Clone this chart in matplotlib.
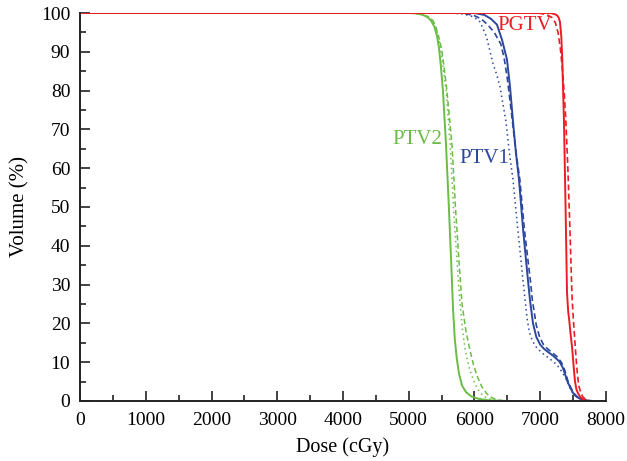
import matplotlib
matplotlib.use("Agg")
import matplotlib.pyplot as plt
from matplotlib.ticker import MultipleLocator

# PTV2 (green)
ptv2_solid_dose = [0, 5000, 5100, 5200, 5280, 5340, 5390, 5430, 5460, 5490, 5520, 5567, 5610, 5645, 5673, 5700, 5730, 5765, 5810, 5870, 5950, 6050, 6200, 6400, 6550]
ptv2_solid_vol = [100, 100, 99.9, 99.6, 99, 98, 96.5, 94, 91, 86, 80, 66, 50, 36, 24, 16, 11, 7, 4, 2.3, 1.2, 0.6, 0.2, 0.05, 0]
ptv2_dash_dose = [0, 5000, 5100, 5200, 5300, 5370, 5420, 5470, 5506, 5545, 5580, 5658, 5710, 5760, 5810, 5870, 5932, 5990, 6050, 6114, 6190, 6266, 6350, 6450]
ptv2_dash_vol = [100, 100, 99.9, 99.6, 99, 98, 96, 93, 90, 85, 80, 66, 50, 37, 25, 18, 13, 9, 6, 3.6, 1.8, 0.8, 0.3, 0]
ptv2_dot_dose = [0, 5000, 5100, 5200, 5300, 5370, 5415, 5460, 5490, 5530, 5570, 5630, 5680, 5730, 5780, 5820, 5860, 5920, 5980, 6050, 6120, 6200, 6300, 6400]
ptv2_dot_vol = [100, 100, 99.9, 99.6, 99, 98, 96, 93, 90, 85, 80, 66, 50, 37, 25, 18, 13, 8.5, 5.5, 3, 1.5, 0.6, 0.2, 0]

# PTV1 (blue)
ptv1_solid_dose = [0, 6000, 6150, 6250, 6342, 6420, 6494, 6540, 6586, 6630, 6677, 6740, 6814, 6844, 6890, 6940, 7000, 7060, 7120, 7200, 7290, 7340, 7376, 7410, 7452, 7500, 7559, 7630, 7700, 7800]
ptv1_solid_vol = [100, 100, 99.5, 98.5, 97, 93, 88, 81, 72, 64, 57, 44, 31, 26, 20, 16.5, 14.5, 13.4, 12.6, 11.6, 10.2, 8.7, 7, 5.2, 3.6, 2, 1, 0.4, 0.15, 0]
ptv1_dash_dose = [0, 5780, 5900, 6000, 6100, 6200, 6300, 6400, 6450, 6500, 6550, 6590, 6640, 6690, 6760, 6850, 6880, 6940, 6990, 7050, 7120, 7180, 7250, 7320, 7360, 7390, 7420, 7460, 7510, 7570, 7650, 7750]
ptv1_dash_vol = [100, 100, 99.7, 99.3, 98.5, 97, 95, 92, 88.5, 83, 76, 70, 63, 57, 44, 31, 26, 19.5, 16.5, 14.5, 13.3, 12.5, 11.5, 10, 8.5, 7, 5.2, 3.6, 2, 1, 0.4, 0]
ptv1_dot_dose = [0, 5600, 5800, 5886, 5990, 6084, 6180, 6281, 6340, 6388, 6479, 6530, 6586, 6660, 6738, 6770, 6798, 6830, 6880, 6950, 7042, 7150, 7255, 7330, 7400, 7460, 7520, 7600, 7750]
ptv1_dot_vol = [100, 100, 99.8, 99.5, 99, 97.7, 94, 87, 84, 81, 72, 64, 57, 44, 31, 26, 21.5, 18, 15.5, 13.6, 12.2, 10.8, 9.3, 7.5, 5.5, 3, 1.5, 0.6, 0]

# PGTV (red)
pgtv_solid_dose = [0, 7150, 7200, 7250, 7280, 7300, 7320, 7335, 7346, 7361, 7385, 7407, 7425, 7440, 7460, 7483, 7500, 7515, 7529, 7550, 7574, 7610, 7650, 7711]
pgtv_solid_vol = [100, 100, 99.8, 99.5, 98.8, 97.7, 94, 88, 81, 72, 50, 28, 23, 21, 17.5, 14, 10.6, 7.5, 5, 3, 2, 1, 0.4, 0]
pgtv_dash_dose = [0, 6900, 7000, 7100, 7180, 7230, 7270, 7305, 7340, 7370, 7390, 7420, 7450, 7483, 7500, 7520, 7545, 7565, 7585, 7615, 7650, 7700, 7760]
pgtv_dash_vol = [100, 100, 99.9, 99.6, 98.8, 97.5, 95, 91, 85, 78, 72, 60, 45, 27, 22, 17, 11, 7, 4, 2.2, 1, 0.3, 0]

green = "#69bd45"
blue = "#2b479e"
red = "#ec1c24"

plt.rcParams['font.family'] = ['Liberation Serif', 'DejaVu Serif']

fig = plt.figure(figsize=(6.27, 4.61), dpi=100)
ax = fig.add_axes([0.1276, 0.1302, 0.8389, 0.8416])

lw = 1.4
dot = (0, (1, 2.2))
dash = (0, (3.5, 2))
ax.plot(ptv2_dot_dose, ptv2_dot_vol, color=green, lw=1.1, linestyle=dot)
ax.plot(ptv2_dash_dose, ptv2_dash_vol, color=green, lw=1.1, linestyle=dash)
ax.plot(ptv2_solid_dose, ptv2_solid_vol, color=green, lw=lw)
ax.plot(ptv1_dot_dose, ptv1_dot_vol, color=blue, lw=1.1, linestyle=dot)
ax.plot(ptv1_dash_dose, ptv1_dash_vol, color=blue, lw=1.2, linestyle=dash)
ax.plot(ptv1_solid_dose, ptv1_solid_vol, color=blue, lw=lw)
ax.plot(pgtv_dash_dose, pgtv_dash_vol, color=red, lw=1.2, linestyle=dash)
ax.plot(pgtv_solid_dose, pgtv_solid_vol, color=red, lw=lw)

ax.set_xlim(0, 8000)
ax.set_ylim(0, 100)
ax.xaxis.set_major_locator(MultipleLocator(1000))
ax.xaxis.set_minor_locator(MultipleLocator(500))
ax.yaxis.set_major_locator(MultipleLocator(10))
ax.yaxis.set_minor_locator(MultipleLocator(5))
ax.tick_params(which='both', direction='in', labelsize=14, width=1.2, color='#222222')
ax.tick_params(which='major', length=7)
ax.tick_params(which='minor', length=4)
ax.tick_params(axis='y', which='major', pad=7)
ax.tick_params(axis='x', which='major', pad=8)
for s in ['top', 'right']:
    ax.spines[s].set_visible(False)
for s in ['left', 'bottom']:
    ax.spines[s].set_linewidth(1.4)
    ax.spines[s].set_color('#222222')

ax.set_xlabel("Dose (cGy)", fontsize=14.5, labelpad=6)
ax.set_ylabel("Volume (%)", fontsize=15, labelpad=8)

ax.text(6770, 96.8, "PGTV", color=red, fontsize=15, ha='center', va='center')
ax.text(5125, 67.5, "PTV2", color=green, fontsize=15, ha='center', va='center')
ax.text(6150, 62.5, "PTV1", color=blue, fontsize=15, ha='center', va='center')

fig.savefig("out.png", dpi=100)
